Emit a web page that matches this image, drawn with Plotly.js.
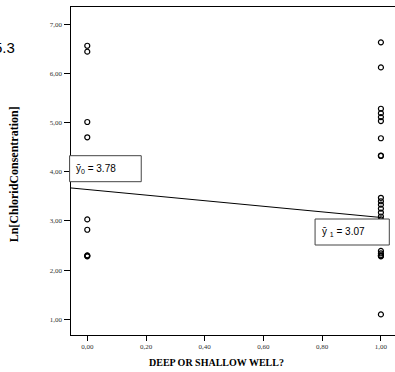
<!DOCTYPE html>
<html>
<head>
<meta charset="utf-8">
<script src="https://cdn.plot.ly/plotly-3.0.1.min.js"></script>
<style>html,body{margin:0;padding:0;background:#fff;}#chart{width:395px;height:372px;}</style>
</head>
<body>
<div id="chart"></div>
<script>
// Shallow/deep well group values (Ln chloride concentration)
var group0X = [0, 0, 0, 0, 0, 0, 0, 0, 0];
var group0Y = [6.56, 6.44, 5.01, 4.70, 3.03, 2.82, 2.30, 2.29, 2.28];
var group1X = [1, 1, 1, 1, 1, 1, 1, 1, 1, 1, 1, 1, 1, 1, 1, 1, 1, 1, 1, 1, 1, 1];
var group1Y = [6.63, 6.12, 5.28, 5.19, 5.11, 5.03, 4.68, 4.33, 4.32, 3.47, 3.40, 3.33, 3.25, 3.17, 3.09, 3.03, 2.39, 2.34, 2.30, 2.29, 2.28, 1.10];
var fitX = [-0.056, 1.0];
var fitY = [3.67, 3.07];
var xTickVals = [0, 0.2, 0.4, 0.6, 0.8, 1.0];
var xTickText = ['0,00', '0,20', '0,40', '0,60', '0,80', '1,00'];
var yTickVals = [1, 2, 3, 4, 5, 6, 7];
var yTickText = ['1,00', '2,00', '3,00', '4,00', '5,00', '6,00', '7,00'];
var mean0Label = 'ȳ<sub>0</sub> = 3.78';
var mean1Label = 'ȳ <sub>1</sub> = 3.07';

var markerStyle = {symbol: 'circle-open', size: 5, color: '#000', line: {width: 1.2, color: '#000'}};
var traces = [
  {x: fitX, y: fitY, mode: 'lines', line: {color: '#000', width: 1}, hoverinfo: 'skip', cliponaxis: true},
  {x: group0X, y: group0Y, mode: 'markers', marker: markerStyle, cliponaxis: false},
  {x: group1X, y: group1Y, mode: 'markers', marker: markerStyle, cliponaxis: false}
];

var W = 395, H = 372, L = 70.7, T = 7, B = 37;
function px(p) { return (p - L) / (W - L); }
function py(p) { return (H - B - p) / (H - B - T); }

var tickFont = {family: 'Liberation Serif, Times New Roman, serif', size: 7, color: '#333'};
var layout = {
  width: W, height: H,
  margin: {l: L, r: 0, t: T, b: B, pad: 0},
  paper_bgcolor: '#fff', plot_bgcolor: '#fff',
  showlegend: false,
  xaxis: {
    range: [-0.0554, 1.048], showgrid: false, zeroline: false,
    showline: true, linecolor: '#000', linewidth: 1, mirror: true,
    ticks: 'outside', ticklen: 5, tickcolor: '#000', tickwidth: 1,
    tickvals: xTickVals, ticktext: xTickText, tickfont: tickFont
  },
  yaxis: {
    range: [0.681, 7.348], showgrid: false, zeroline: false,
    showline: true, linecolor: '#000', linewidth: 1.5, mirror: false,
    ticks: 'outside', ticklen: 6, tickcolor: '#000', tickwidth: 1,
    tickvals: yTickVals, ticktext: yTickText, tickfont: tickFont
  },
  shapes: [
    {type: 'rect', xref: 'paper', yref: 'paper', x0: px(69.3), x1: px(141), y0: py(181.7), y1: py(155.7),
     line: {color: '#444', width: 1}, fillcolor: '#fff', layer: 'above'},
    {type: 'rect', xref: 'paper', yref: 'paper', x0: px(315), x1: px(389.3), y0: py(245), y1: py(219),
     line: {color: '#444', width: 1}, fillcolor: '#fff', layer: 'above'}
  ],
  annotations: [
    {xref: 'paper', yref: 'paper', x: px(74), y: py(168.5), xanchor: 'left', yanchor: 'middle',
     text: mean0Label, showarrow: false, font: {family: 'Liberation Sans, Arial, sans-serif', size: 10, color: '#000'}},
    {xref: 'paper', yref: 'paper', x: px(320), y: py(231.5), xanchor: 'left', yanchor: 'middle',
     text: mean1Label, showarrow: false, font: {family: 'Liberation Sans, Arial, sans-serif', size: 10, color: '#000'}},
    {xref: 'paper', yref: 'paper', x: px(14), y: py(174), xanchor: 'center', yanchor: 'middle', textangle: -90,
     text: '<b>Ln[ChloridConsentration]</b>', showarrow: false,
     font: {family: 'Liberation Serif, Times New Roman, serif', size: 12, color: '#000'}},
    {xref: 'paper', yref: 'paper', x: px(216), y: py(362), xanchor: 'center', yanchor: 'middle',
     text: '<b>DEEP OR SHALLOW WELL?</b>', showarrow: false,
     font: {family: 'Liberation Serif, Times New Roman, serif', size: 10, color: '#000'}},
    {xref: 'paper', yref: 'paper', x: px(17), y: py(47), xanchor: 'right', yanchor: 'middle',
     text: '5.3', showarrow: false,
     font: {family: 'Liberation Sans, Arial, sans-serif', size: 15, color: '#000'}}
  ]
};

Plotly.newPlot('chart', traces, layout, {staticPlot: true, displayModeBar: false});
</script>
</body>
</html>
